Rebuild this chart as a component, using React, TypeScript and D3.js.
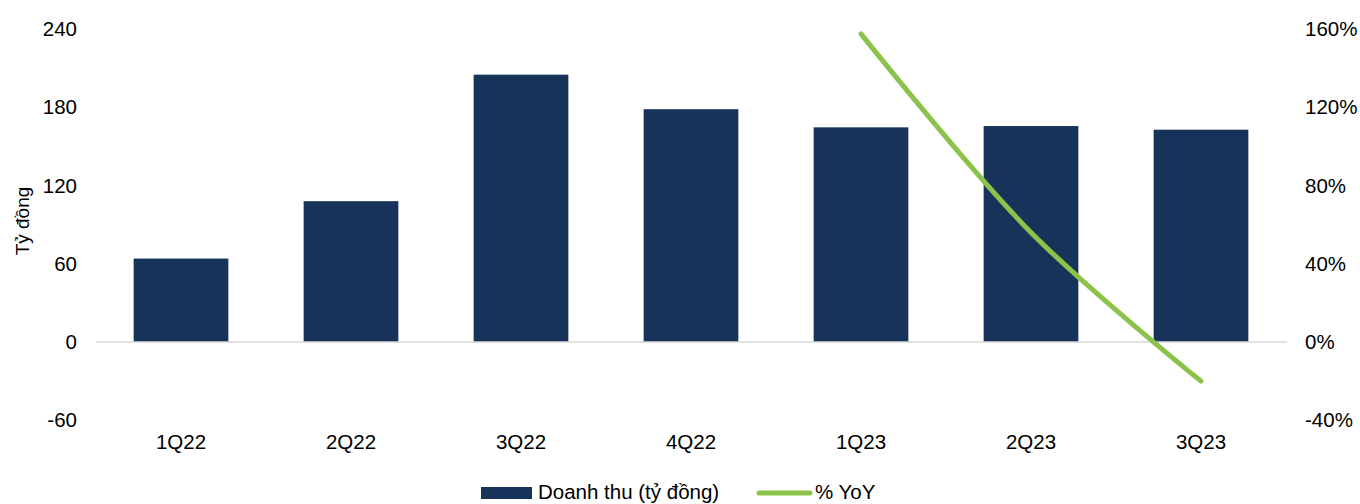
import React from "react";
import * as d3 from "d3";

const categories = ["1Q22", "2Q22", "3Q22", "4Q22", "1Q23", "2Q23", "3Q23"];
const revenue = [64, 108, 205, 178.5, 164.6, 165.6, 162.8];
const yoyCategories = ["1Q23", "2Q23", "3Q23"];
const yoy = [157.5, 56, -20];
const leftTicks = [-60, 0, 60, 120, 180, 240];
const rightTicks = [-40, 0, 40, 80, 120, 160];

const W = 1360;
const H = 504;
const FONT = "'Liberation Sans', Arial, sans-serif";
const BAR = "#173359";
const GREEN = "#8BC34A";
const FS = 20.5;

export default function App() {
  const x = d3.scaleBand<string>().domain(categories).range([96, 1286]).paddingInner(0.443).paddingOuter(0.2215);
  const yL = d3.scaleLinear().domain([-60, 240]).range([420.3, 29]);
  const yR = d3.scaleLinear().domain([-40, 160]).range([420.3, 29]);
  const cx = (c: string) => (x(c) as number) + x.bandwidth() / 2;
  const line = d3
    .line<number>()
    .x((_, i) => cx(yoyCategories[i]))
    .y((d) => yR(d))
    .curve(d3.curveCatmullRom.alpha(0.5));

  return (
    <svg width={W} height={H} style={{ position: "absolute", left: 0, top: 0, background: "#fff" }} fontFamily={FONT}>
      {revenue.map((v, i) => (
        <rect
          key={categories[i]}
          x={x(categories[i])}
          width={x.bandwidth()}
          y={yL(Math.max(0, v))}
          height={Math.abs(yL(v) - yL(0))}
          fill={BAR}
        />
      ))}
      <line x1={96} x2={1287} y1={yL(0)} y2={yL(0)} stroke="#D9D9D9" strokeWidth={1.5} />
      <path d={line(yoy) || ""} fill="none" stroke={GREEN} strokeWidth={5} strokeLinecap="round" />
      {leftTicks.map((t) => (
        <text key={"l" + t} x={77} y={yL(t)} dy="0.35em" textAnchor="end" fontSize={FS} fill="#000">
          {t}
        </text>
      ))}
      {rightTicks.map((t) => (
        <text key={"r" + t} x={1305} y={yR(t)} dy="0.35em" textAnchor="start" fontSize={FS} fill="#000">
          {t + "%"}
        </text>
      ))}
      {categories.map((c) => (
        <text key={"c" + c} x={cx(c)} y={442} dy="0.35em" textAnchor="middle" fontSize={FS} fill="#000">
          {c}
        </text>
      ))}
      <text transform={`translate(29,221) rotate(-90)`} textAnchor="middle" fontSize={19} fill="#000">
        Tỷ đồng
      </text>
      <rect x={481} y={487} width={51} height={12} fill={BAR} />
      <text x={538} y={499} fontSize={20.5} fill="#000">
        Doanh thu (tỷ đồng)
      </text>
      <line x1={759} x2={810} y1={493} y2={493} stroke={GREEN} strokeWidth={5} strokeLinecap="round" />
      <text x={815} y={499} fontSize={20.5} fill="#000">
        % YoY
      </text>
    </svg>
  );
}
